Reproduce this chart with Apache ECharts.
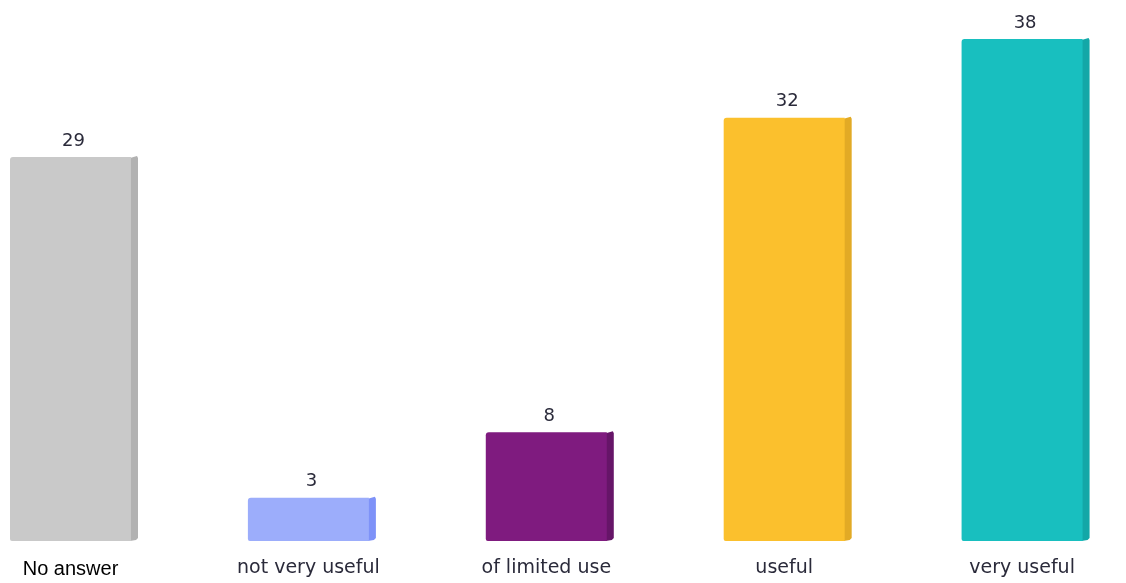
<!DOCTYPE html>
<html><head><meta charset="utf-8">
<style>html,body{margin:0;padding:0;background:#fff}#c{width:1126px;height:583px}</style>
<script src="https://cdn.jsdelivr.net/npm/echarts@6/dist/echarts.min.js"></script>
</head><body><div id="c"></div>
<script>
var categories = ['No answer', 'not very useful', 'of limited use', 'useful', 'very useful'];
var values = [29, 3, 8, 32, 38];
var frontColors = ['#c9c9c9', '#9cadfb', '#7f1b7f', '#fbc02d', '#18bfbf'];
var sideColors = ['#b2b2b2', '#7e92f8', '#661568', '#e2aa25', '#13a7a7'];

var chart = echarts.init(document.getElementById('c'));
chart.setOption({
  animation: false,
  grid: { left: 0, right: 0, top: 39, bottom: 46 },
  xAxis: {
    type: 'value', min: -0.2963, max: 4.4368,
    splitLine: { show: false },
    axisLine: { show: false }, axisTick: { show: false },
    axisLabel: {
      margin: 22,
      customValues: [0, 1, 2, 3, 4],
      formatter: function (v) {
        var i = Math.round(v);
        return i === 0 ? '{a|' + categories[i] + '}' : '{b|' + categories[i] + '}';
      },
      rich: {
        a: { fontFamily: 'Liberation Sans', fontSize: 20, color: '#000' },
        b: { fontFamily: 'DejaVu Sans', fontSize: 19, color: '#2a2a3a' }
      }
    }
  },
  yAxis: { type: 'value', min: 0, max: 38, show: false, splitLine: { show: false } },
  series: [{
    type: 'custom',
    data: values.map(function (v, i) { return [i, v]; }),
    renderItem: function (params, api) {
      var i = api.value(0), v = api.value(1);
      var top = api.coord([i, v]);
      var bot = api.coord([i, 0]);
      var fw = 121, sd = 7;
      var x0 = top[0] - fw / 2, x1 = x0 + fw;
      var yT = top[1], yB = bot[1] + 4;
      return {
        type: 'group',
        children: [
          { type: 'polygon', shape: { points: [[x1 - 1, yT + 1], [x1 + sd - 1, yT - 1], [x1 + sd, yT + 1], [x1 + sd, yB - 3], [x1 + sd - 2, yB - 1], [x1 - 1, yB]] },
            style: { fill: sideColors[i] } },
          { type: 'rect', shape: { x: x0, y: yT, width: fw, height: yB - yT, r: [3, 0, 0, 2] },
            style: { fill: frontColors[i] } },
          { type: 'text', x: x0 + fw / 2 + 3, y: yT - 7,
            style: { text: String(v), fill: '#2a2a3a', font: '18px "DejaVu Sans"', align: 'center', verticalAlign: 'bottom' } }
        ]
      };
    }
  }]
});
</script></body></html>
